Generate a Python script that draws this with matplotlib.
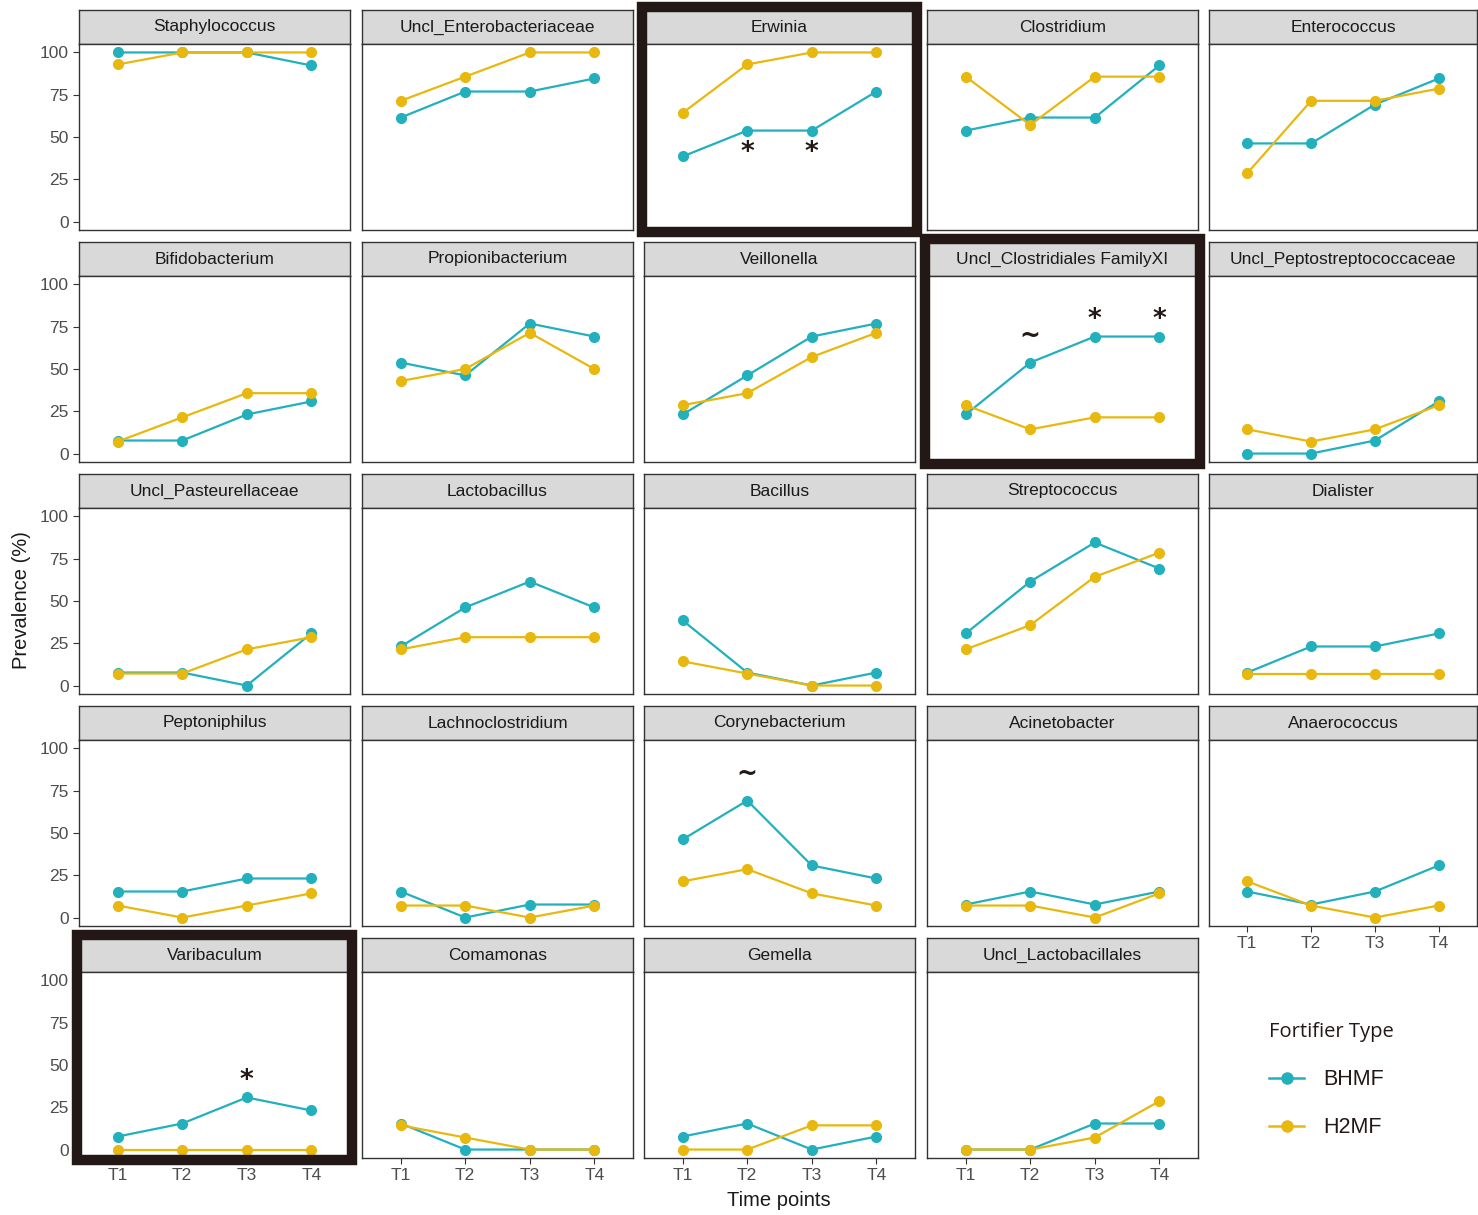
import numpy as np
import matplotlib
matplotlib.use("Agg")
import matplotlib.pyplot as plt
from matplotlib.lines import Line2D
from matplotlib.patches import Rectangle

plt.rcParams['font.family'] = ['Liberation Sans', 'DejaVu Sans']

times = ["T1", "T2", "T3", "T4"]
genera = ["Staphylococcus", "Uncl_Enterobacteriaceae", "Erwinia", "Clostridium", "Enterococcus",
          "Bifidobacterium", "Propionibacterium", "Veillonella", "Uncl_Clostridiales FamilyXI",
          "Uncl_Peptostreptococcaceae", "Uncl_Pasteurellaceae", "Lactobacillus", "Bacillus",
          "Streptococcus", "Dialister", "Peptoniphilus", "Lachnoclostridium", "Corynebacterium",
          "Acinetobacter", "Anaerococcus", "Varibaculum", "Comamonas", "Gemella",
          "Uncl_Lactobacillales"]

bhmf = [
    [100, 100, 100, 92.3], [61.5, 76.9, 76.9, 84.6], [38.5, 53.8, 53.8, 76.9],
    [53.8, 61.5, 61.5, 92.3], [46.2, 46.2, 69.2, 84.6],
    [7.7, 7.7, 23.1, 30.8], [53.8, 46.2, 76.9, 69.2], [23.1, 46.2, 69.2, 76.9],
    [23.1, 53.8, 69.2, 69.2], [0, 0, 7.7, 30.8],
    [7.7, 7.7, 0, 30.8], [23.1, 46.2, 61.5, 46.2], [38.5, 7.7, 0, 7.7],
    [30.8, 61.5, 84.6, 69.2], [7.7, 23.1, 23.1, 30.8],
    [15.4, 15.4, 23.1, 23.1], [15.4, 0, 7.7, 7.7], [46.2, 69.2, 30.8, 23.1],
    [7.7, 15.4, 7.7, 15.4], [15.4, 7.7, 15.4, 30.8],
    [7.7, 15.4, 30.8, 23.1], [15.4, 0, 0, 0], [7.7, 15.4, 0, 7.7], [0, 0, 15.4, 15.4],
]
h2mf = [
    [92.9, 100, 100, 100], [71.4, 85.7, 100, 100], [64.3, 92.9, 100, 100],
    [85.7, 57.1, 85.7, 85.7], [28.6, 71.4, 71.4, 78.6],
    [7.1, 21.4, 35.7, 35.7], [42.9, 50, 71.4, 50], [28.6, 35.7, 57.1, 71.4],
    [28.6, 14.3, 21.4, 21.4], [14.3, 7.1, 14.3, 28.6],
    [7.1, 7.1, 21.4, 28.6], [21.4, 28.6, 28.6, 28.6], [14.3, 7.1, 0, 0],
    [21.4, 35.7, 64.3, 78.6], [7.1, 7.1, 7.1, 7.1],
    [7.1, 0, 7.1, 14.3], [7.1, 7.1, 0, 7.1], [21.4, 28.6, 14.3, 7.1],
    [7.1, 7.1, 0, 14.3], [21.4, 7.1, 0, 7.1],
    [0, 0, 0, 0], [14.3, 7.1, 0, 0], [0, 0, 14.3, 14.3], [0, 0, 7.1, 28.6],
]

# significance marks: (genus, time index, symbol, above/below)
marks = [("Erwinia", 1, "*", "below"), ("Erwinia", 2, "*", "below"),
         ("Uncl_Clostridiales FamilyXI", 1, "~", "above"),
         ("Uncl_Clostridiales FamilyXI", 2, "*", "above"),
         ("Uncl_Clostridiales FamilyXI", 3, "*", "above"),
         ("Corynebacterium", 1, "~", "above"),
         ("Varibaculum", 2, "*", "above")]
highlight = ["Erwinia", "Uncl_Clostridiales FamilyXI", "Varibaculum"]

c_b = "#22B0BD"
c_h = "#E8B80E"
W, H = 1478, 1215
fig = plt.figure(figsize=(W / 100, H / 100), dpi=100)
fig.patch.set_facecolor("white")

col_left = [79, 362, 644, 927, 1209]
row_top = [10, 242, 474, 706, 938]
pw, ph, sh = 271, 186, 34

def fax(x, y, w, h):
    return fig.add_axes([x / W, 1 - (y + h) / H, w / W, h / H])

xs = np.arange(1, 5)
for i, g in enumerate(genera):
    r, c = divmod(i, 5)
    x0, y0 = col_left[c], row_top[r]
    w = min(pw, W - 1 - x0)
    # strip
    sa = fax(x0, y0, w, sh)
    sa.set_facecolor("#D9D9D9")
    sa.set_xticks([]); sa.set_yticks([])
    for s in sa.spines.values():
        s.set_color("#333333"); s.set_linewidth(1.0)
    sa.text(0.5, 0.5, g, ha="center", va="center", fontsize=12.5, color="#1A1A1A",
            transform=sa.transAxes)
    # panel
    ax = fax(x0, y0 + sh, w, ph)
    ax.plot(xs, bhmf[i], color=c_b, lw=1.6, marker="o", ms=7, zorder=3)
    ax.plot(xs, h2mf[i], color=c_h, lw=1.6, marker="o", ms=7, zorder=3)
    ax.set_xlim(0.4, 4.6)
    ax.set_ylim(-5, 105)
    ax.set_xticks(xs)
    ax.set_yticks([0, 25, 50, 75, 100])
    for s in ax.spines.values():
        s.set_color("#333333"); s.set_linewidth(1.0)
    show_x = (r == 4) or (r == 3 and c == 4)
    show_y = (c == 0)
    ax.tick_params(axis="x", length=4 if show_x else 0, labelbottom=show_x,
                   labelsize=12.5, colors="#333333", labelcolor="#4D4D4D", width=0.8)
    ax.tick_params(axis="y", length=4 if show_y else 0, labelleft=show_y,
                   labelsize=12.5, colors="#333333", labelcolor="#4D4D4D", width=0.8)
    ax.set_xticklabels(times)
    for gname, ti, sym, pos in marks:
        if gname == g:
            v = bhmf[i][ti]
            if pos == "above":
                yy = v + (16 if sym == "~" else 10)
            else:
                yy = v - 13
            ax.text(xs[ti], yy, sym, ha="center", va="center",
                    fontsize=19 if sym == "*" else 18, fontweight="bold",
                    color="#231815", family="DejaVu Sans")
    if g in highlight:
        fig.patches.append(Rectangle(((x0 - 2) / W, 1 - (y0 + sh + ph + 2) / H),
                                     (w + 4) / W, (sh + ph + 5) / H,
                                     transform=fig.transFigure, fill=False,
                                     edgecolor="#231815", lw=7.5, zorder=10))

fig.text(22 / W, 1 - 600 / H, "Prevalence (%)", rotation=90, ha="center", va="center",
         fontsize=14.5, color="#1A1A1A")
fig.text(779 / W, 1 - 1201 / H, "Time points", ha="center", va="center",
         fontsize=14.5, color="#1A1A1A")

handles = [Line2D([0], [0], color=c_b, lw=1.8, marker="o", ms=8),
           Line2D([0], [0], color=c_h, lw=1.8, marker="o", ms=8)]
leg = fig.legend(handles, ["BHMF", "H2MF"], title="Fortifier Type",
                 loc="upper left", bbox_to_anchor=(1250 / W, 1 - 1003 / H),
                 frameon=False, fontsize=15.5, handlelength=1.6, labelspacing=1.25,
                 handletextpad=0.9,
                 prop={"family": "Liberation Sans", "size": 15.5},
                 title_fontproperties={"family": "Open Sans", "size": 14.5})
leg._legend_box.align = "left"
for t in leg.get_texts():
    t.set_color("#231815")
leg.get_title().set_color("#231815")

fig.savefig("out.png", dpi=100, facecolor="white")
